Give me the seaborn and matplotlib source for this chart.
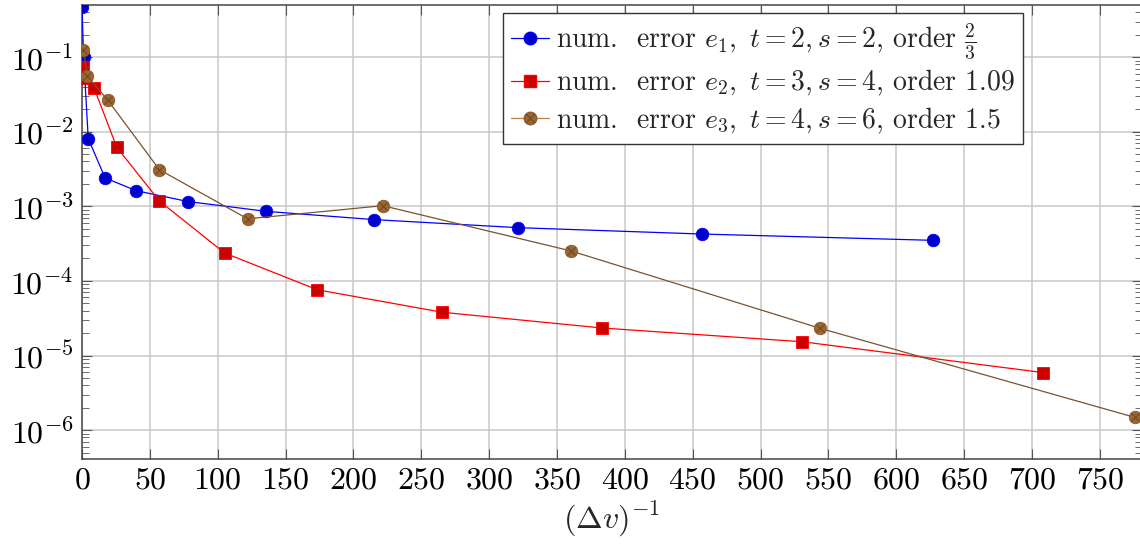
import numpy as np
import pandas as pd
import matplotlib
matplotlib.use("Agg")
import matplotlib.pyplot as plt
import seaborn as sns
from matplotlib.ticker import NullFormatter, MultipleLocator, FixedLocator, LogFormatterSciNotation
from matplotlib.legend_handler import HandlerTuple
from matplotlib.lines import Line2D

# values
x_e1 = [0.0, 1.2, 4.6, 17, 40, 78, 135.5, 215, 321, 457, 627]
y_e1 = [0.47, 0.10, 0.0081, 0.0024, 0.00162, 0.00116, 0.000857, 0.000664, 0.000518, 0.000425, 0.00035]

x_e2 = [0.5, 1.5, 8.8, 25.6, 57, 105, 173.5, 265.5, 383, 530.7, 708.4]
y_e2 = [0.074, 0.053, 0.039, 0.0062, 0.00118, 0.000237, 7.6e-5, 3.8e-5, 2.34e-5, 1.53e-5, 5.9e-6]

x_e3 = [1.0, 4.0, 19, 57, 122, 221.7, 360.4, 543.7, 775.8]
y_e3 = [0.124, 0.0556, 0.0265, 0.0031, 0.00068, 0.00102, 0.000252, 2.32e-5, 1.48e-6]

labels = [r"num.  error $e_1,\ t=2, s=2$, order $\frac{2}{3}$",
          r"num.  error $e_2,\ t=3, s=4$, order $1.09$",
          r"num.  error $e_3,\ t=4, s=6$, order $1.5$"]

decades = [1e-6, 1e-5, 1e-4, 1e-3, 1e-2, 1e-1]

sns.set_style("whitegrid")
plt.rcParams['font.family'] = 'serif'
plt.rcParams['font.serif'] = ['cmr10']
plt.rcParams['mathtext.fontset'] = 'cm'
plt.rcParams['axes.formatter.use_mathtext'] = True

fig = plt.figure(figsize=(11.4, 5.44), dpi=100)
ax = fig.add_axes([82 / 1140, (544 - 459) / 544, (1142 - 82) / 1140, (459 - 5) / 544])

df1 = pd.DataFrame({'x': x_e1, 'y': y_e1})
df2 = pd.DataFrame({'x': x_e2, 'y': y_e2})
df3 = pd.DataFrame({'x': x_e3, 'y': y_e3})

sns.lineplot(data=df1, x='x', y='y', ax=ax, color='#0000ff', lw=0.9, marker='o',
             markersize=9, markerfacecolor='#0000cc', markeredgecolor='#0000ff',
             markeredgewidth=0.6, estimator=None, sort=False, zorder=3)
sns.lineplot(data=df2, x='x', y='y', ax=ax, color='#ff0000', lw=0.9, marker='s',
             markersize=8.5, markerfacecolor='#cc0000', markeredgecolor='#ff0000',
             markeredgewidth=0.6, estimator=None, sort=False, zorder=3)
sns.lineplot(data=df3, x='x', y='y', ax=ax, color='#7a5230', lw=0.9, marker='o',
             markersize=9, markerfacecolor='#996633', markeredgecolor='#8a5a2b',
             markeredgewidth=0.6, estimator=None, sort=False, zorder=3)
# cross inside the brown marks (otimes)
ax.plot(x_e3, y_e3, ls='none', marker='x', markersize=5.5, color='#5a3a1a',
        markeredgewidth=0.5, zorder=4)

ax.set_yscale('log')
ax.set_xlim(0, 781)
ax.set_ylim(4.1e-7, 0.5)

ax.xaxis.set_major_locator(MultipleLocator(50))
minor = [m * d for d in [1e-7] + decades for m in range(2, 10)]
minor = [v for v in minor if 4.1e-7 < v < 0.5]
ax.yaxis.set_major_locator(FixedLocator(decades))
ax.yaxis.set_major_formatter(LogFormatterSciNotation())
ax.yaxis.set_minor_locator(FixedLocator(minor))
ax.yaxis.set_minor_formatter(NullFormatter())
ax.yaxis.get_offset_text().set_visible(False)

ax.grid(True, which='major', color='#c8c8c8', lw=1.1)
ax.grid(False, which='minor')
for s in ax.spines.values():
    s.set_color('#444444')
    s.set_linewidth(1.1)
    s.set_visible(True)

ax.tick_params(which='both', direction='in', top=True, right=True,
               bottom=True, left=True, color='#555555', labelsize=23,
               labelcolor='black')
ax.tick_params(which='major', length=7, width=0.8, pad=6)
ax.tick_params(which='minor', length=5, width=0.6)

ax.set_xlabel(r"$(\Delta v)^{-1}$", fontsize=23, labelpad=4)
ax.set_ylabel("")

h1 = Line2D([], [], color='#0000ff', lw=0.9, marker='o', markersize=9,
            markerfacecolor='#0000cc', markeredgecolor='#0000ff')
h2 = Line2D([], [], color='#ff0000', lw=0.9, marker='s', markersize=8.5,
            markerfacecolor='#cc0000', markeredgecolor='#ff0000')
h3a = Line2D([], [], color='#bf8040', lw=0.9, marker='o', markersize=9,
             markerfacecolor='#996633', markeredgecolor='#8a5a2b')
h3b = Line2D([], [], ls='none', marker='x', markersize=5.5, color='#5a3a1a',
             markeredgewidth=0.5)
leg = ax.legend([h1, h2, (h3a, h3b)], labels, loc='upper right',
                bbox_to_anchor=(0.888, 0.983), fontsize=20, frameon=True,
                fancybox=False, framealpha=1, edgecolor='#333333',
                handlelength=1.35, handletextpad=0.25, borderpad=0.3,
                labelspacing=0.25, borderaxespad=0,
                handler_map={tuple: HandlerTuple(ndivide=1, pad=0)})
leg.get_frame().set_linewidth(1.0)

fig.savefig('out.png', dpi=100)
